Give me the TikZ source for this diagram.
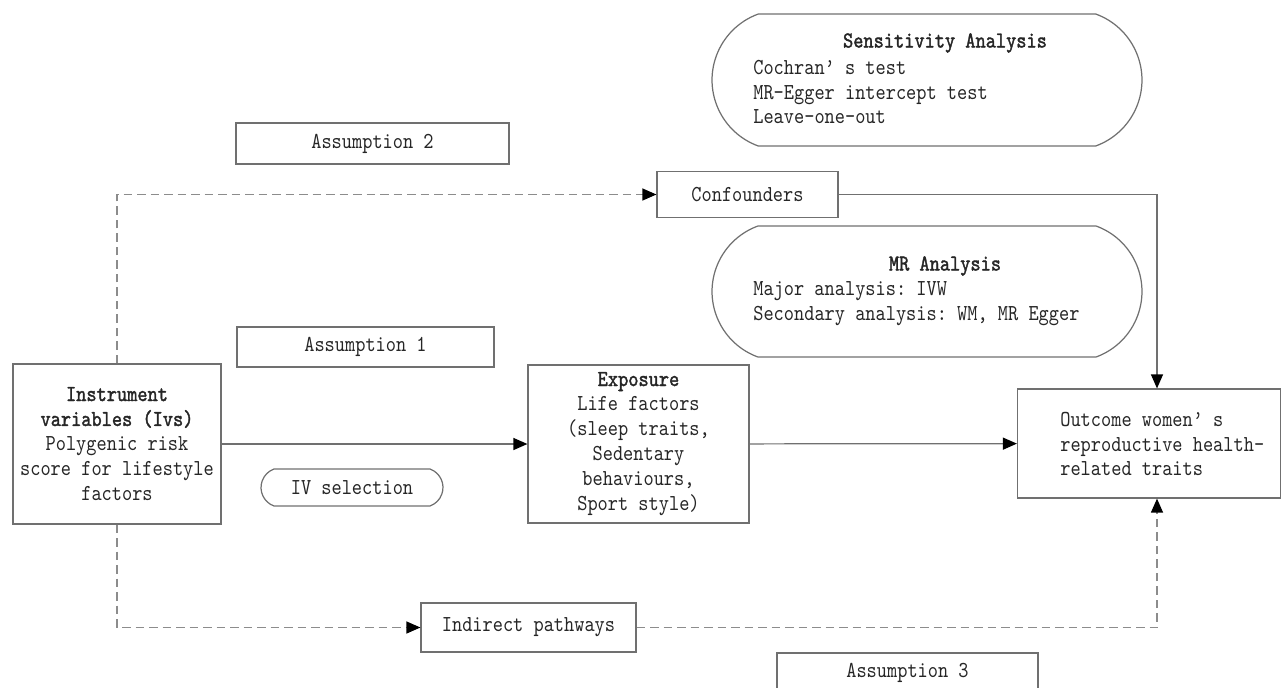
\documentclass[tikz,border=0pt]{standalone}
\usepackage{fontspec}
\usepackage{xcolor}
\usepackage{tikz}
\usetikzlibrary{arrows.meta,shapes.misc}
\setmonofont{lmmono10-regular.otf}[FakeStretch=0.85]
\newfontfamily\headfont{lmmono10-regular.otf}[FakeStretch=0.85,FakeBold=1.6]
\definecolor{boxline}{HTML}{707070}
\definecolor{dashline}{HTML}{8C8C8C}
\definecolor{inktext}{HTML}{262626}
\tikzset{
  every node/.style={font=\ttfamily\fontsize{13}{14.2}\selectfont,text=inktext},
  plainbox/.style={draw=boxline,line width=0.7pt,rectangle,inner sep=0pt},
  pillbox/.style={draw=boxline,line width=0.7pt,rounded rectangle,rounded rectangle arc length=140,inner sep=0pt},
  link/.style={draw=boxline,line width=0.7pt,-{Triangle[length=0.28cm,width=0.24cm,color=black]}},
  dashlink/.style={draw=dashline,line width=0.7pt,dash pattern=on 0.17cm off 0.1cm,-{Triangle[length=0.28cm,width=0.24cm,color=black]}}
}

\begin{document}
\begin{tikzpicture}[x=0.02cm,y=-0.02cm]
		\useasboundingbox (0,0) rectangle (1282,687);

		% upper part
		\node[pillbox,minimum width=8.6cm,minimum height=2.64cm] (sens) at (927,80) {};
		\node (senstitle) at (945,43) {\headfont Sensitivity Analysis};
		\node[anchor=west,align=left,inner sep=0pt] (senslist) at (753,92) {Cochran’ s test\\MR-Egger intercept test\\Leave-one-out};

		\node[plainbox,minimum width=5.46cm,minimum height=0.82cm] (asum2) at (372.5,143.5) {Assumption 2};
		\node[plainbox,minimum width=3.62cm,minimum height=0.92cm] (conf) at (747.5,194.5) {Confounders};

		\node[pillbox,minimum width=8.6cm,minimum height=2.62cm] (mr) at (927,291.5) {};
		\node (mrtitle) at (945,266) {\headfont MR Analysis};
		\node[anchor=west,align=left,inner sep=0pt] (mrlist) at (753,303.5) {Major analysis: IVW\\Secondary analysis: WM, MR Egger};

		\node[plainbox,minimum width=5.14cm,minimum height=0.8cm] (asum1) at (365.5,347) {Assumption 1};

		% main row
		\node[plainbox,minimum width=4.16cm,minimum height=3.2cm,align=center] (ivs) at (117,444)
			{{\headfont Instrument}\\{\headfont variables (Ivs)}\\Polygenic risk\\score for lifestyle\\factors};
		\node[pillbox,minimum width=3.64cm,minimum height=0.74cm] (ivsel) at (352,487.5) {IV selection};
		\node[plainbox,minimum width=4.42cm,minimum height=3.16cm,align=center] (expo) at (638.5,444)
			{{\headfont Exposure}\\Life factors\\(sleep traits,\\Sedentary\\behaviours,\\Sport style)};
		\node[plainbox,minimum width=5.26cm,minimum height=2.18cm] (outc) at (1149,443.5) {};
		\node[anchor=west,align=left,inner sep=0pt] (outctext) at (1060,444) {Outcome women’ s\\reproductive health-\\related traits};

		% lower part
		\node[plainbox,minimum width=4.3cm,minimum height=0.98cm] (indir) at (528.5,627.5) {Indirect pathways};
		\node[plainbox,minimum width=5.22cm,minimum height=0.8cm] (asum3) at (907.5,673) {Assumption 3};

		% connectors
		\draw[link] (ivs) -- (expo);
		\draw[link] (expo) -- (outc);
		\draw[link] (conf.east) -| ([xshift=0.16cm]outc.north);
		\draw[dashlink] (ivs.north) |- (conf.west);
		\draw[dashlink] (ivs.south) |- (indir.west);
		\draw[dashlink] (indir.east) -| ([xshift=0.16cm]outc.south);
	\end{tikzpicture}
\end{document}
